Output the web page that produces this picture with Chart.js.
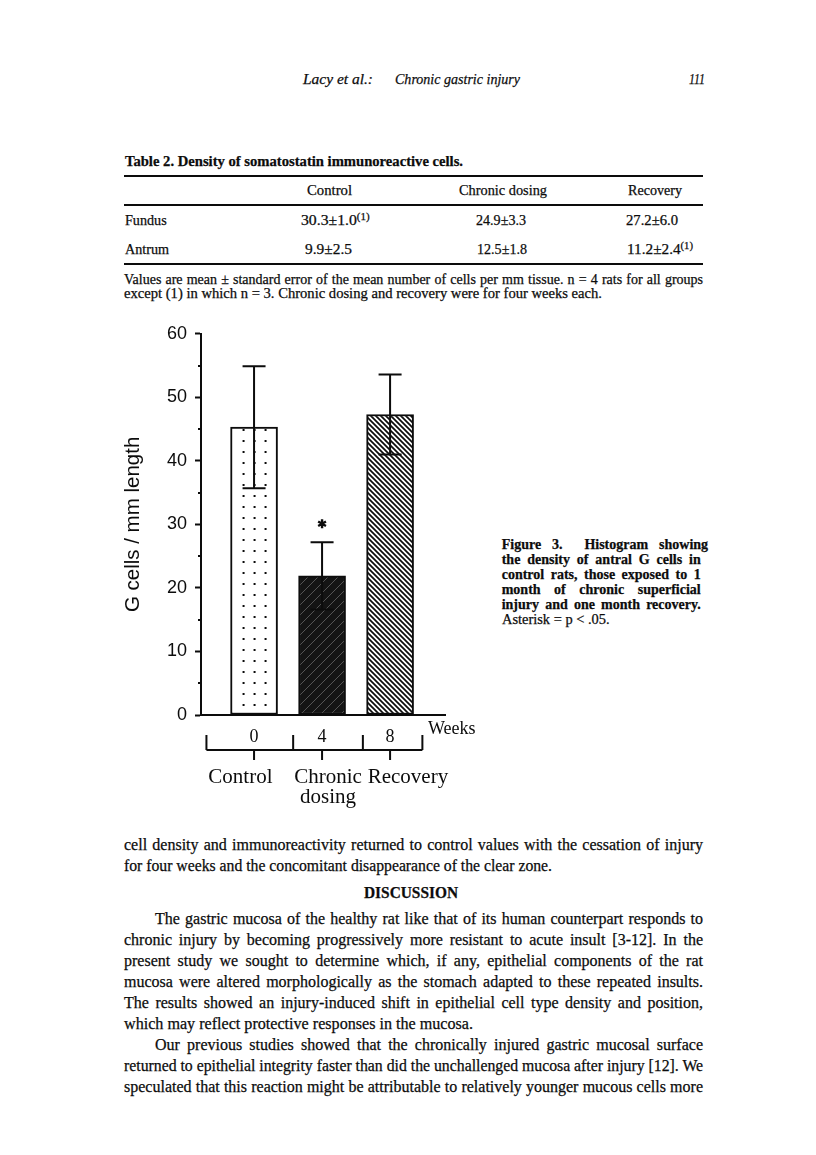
<!DOCTYPE html>
<html>
<head>
<meta charset="utf-8">
<script src="https://cdn.jsdelivr.net/npm/chart.js@4.4.0/dist/chart.umd.min.js"></script>
<style>
    html, body { margin: 0; padding: 0; background: #fff; }
    #page { position: relative; width: 816px; height: 1155px; overflow: hidden; color: #0c0c0c; font-family: "Liberation Serif", serif; }
    .t { position: absolute; white-space: nowrap; transform-origin: 0 50%; -webkit-text-stroke: 0.25px #0c0c0c; }
    .t sup { font-size: 0.7em; vertical-align: 0.45em; line-height: 0; }
    .rule { position: absolute; left: 124px; width: 579px; background: #0c0c0c; }
    #chartBox { position: absolute; left: 110px; top: 315px; width: 380px; height: 510px; }
</style>
</head>
<body>
<div id="page">
    <div class="rule" style="top:175px;height:2px"></div>
    <div class="rule" style="top:204px;height:1.5px"></div>
    <div class="rule" style="top:263px;height:2px"></div>
    <div id="chartBox"><canvas id="gCellChart" width="380" height="510"></canvas></div>
</div>

<script>
// --- data ---
const weeks = [0, 4, 8];
const groupLines = [['Control'], ['Chronic', 'dosing'], ['Recovery']];
const gCellMean = [45.3, 21.9, 47.3];
const gCellSem = [9.6, 5.3, 6.3];
const significant = [false, true, false];
const yMinorTicks = [5, 15, 25, 35, 45, 55];

// Table 2 values
const tableCols = ['Control', 'Chronic dosing', 'Recovery'];
const fundusVals = ['30.3±1.0<sup>(1)</sup>', '24.9±3.3', '27.2±6.0'];
const antrumVals = ['9.9±2.5', '12.5±1.8', '11.2±2.4<sup>(1)</sup>'];

const ink = '#0c0c0c';
const page = document.getElementById('page');

// --- text helper: place one line, stretch or justify it to a width ---
function line(html, x, yc, w, o) {
    const el = document.createElement('div');
    el.className = 't';
    el.innerHTML = html;
    const size = o.size || 15;
    el.style.font = (o.style || 'normal') + ' ' + (o.weight || 'normal') + ' ' + size + 'px "Liberation Serif"';
    el.style.lineHeight = (size * 1.2) + 'px';
    el.style.left = x + 'px';
    el.style.top = (yc - size * 0.6) + 'px';
    page.appendChild(el);
    const nat = el.getBoundingClientRect().width;
    const gaps = (el.textContent.match(/ /g) || []).length;
    if (o.justify && nat < w && gaps) {
        el.style.wordSpacing = ((w - nat) / gaps) + 'px';
    } else if (w) {
        el.style.transform = 'scaleX(' + (w / nat) + ')';
    }
}

// running head
line('Lacy et al.:', 303, 79, 70, { size: 15.5, style: 'italic' });
line('Chronic gastric injury', 395, 79, 125, { size: 15.5, style: 'italic' });
line('111', 689, 79, 16, { size: 15.5, style: 'italic' });

// table
line('Table 2. Density of somatostatin immunoreactive cells.', 125, 162, 338, { size: 14, weight: 'bold' });
line(tableCols[0], 306.7, 191, 45, { size: 14.5 });
line(tableCols[1], 459.3, 191, 88, { size: 14.5 });
line(tableCols[2], 628.3, 191, 54, { size: 14.5 });
line('Fundus', 125, 220.5, 41.7, { size: 14.5 });
line('Antrum', 125, 250, 44, { size: 14.5 });
line(fundusVals[0], 300.7, 220.5, 68.6, { size: 14.5 });
line(fundusVals[1], 475.7, 220.5, 50, { size: 14.5 });
line(fundusVals[2], 626, 220.5, 52, { size: 14.5 });
line(antrumVals[0], 305, 250, 47, { size: 14.5 });
line(antrumVals[1], 476.7, 250, 50, { size: 14.5 });
line(antrumVals[2], 626.7, 250, 66, { size: 14.5 });
line('Values are mean ± standard error of the mean number of cells per mm tissue. n = 4 rats for all groups', 124, 280, 579, { size: 14, justify: true });
line('except (1) in which n = 3. Chronic dosing and recovery were for four weeks each.', 124, 294.5, 478, { size: 14 });

// figure caption
const capLines = [
    'Figure 3.&nbsp; Histogram showing',
    'the density of antral G cells in',
    'control rats, those exposed to 1',
    'month of chronic superficial',
    'injury and one month recovery.'
];
capLines.forEach((s, i) => line(s, 501.7, 545 + i * 15.1, 199, { size: 14, weight: 'bold', justify: true }));
line('Asterisk = p &lt; .05.', 501.7, 620.5, 107.6, { size: 14 });

// body text
const bodyY = [845, 866, 893, 919, 940, 961, 982, 1003, 1024, 1045, 1066, 1087];
line('cell density and immunoreactivity returned to control values with the cessation of injury', 124, bodyY[0], 579, { size: 16, justify: true });
line('for four weeks and the concomitant disappearance of the clear zone.', 124, bodyY[1], 428, { size: 16 });
line('DISCUSSION', 364, bodyY[2], 94, { size: 16, weight: 'bold' });
line('The gastric mucosa of the healthy rat like that of its human counterpart responds to', 155, bodyY[3], 548, { size: 16, justify: true });
line('chronic injury by becoming progressively more resistant to acute insult [3-12]. In the', 124, bodyY[4], 579, { size: 16, justify: true });
line('present study we sought to determine which, if any, epithelial components of the rat', 124, bodyY[5], 579, { size: 16, justify: true });
line('mucosa were altered morphologically as the stomach adapted to these repeated insults.', 124, bodyY[6], 579, { size: 16, justify: true });
line('The results showed an injury-induced shift in epithelial cell type density and position,', 124, bodyY[7], 579, { size: 16, justify: true });
line('which may reflect protective responses in the mucosa.', 124, bodyY[8], 349, { size: 16 });
line('Our previous studies showed that the chronically injured gastric mucosal surface', 155, bodyY[9], 548, { size: 16, justify: true });
line('returned to epithelial integrity faster than did the unchallenged mucosa after injury [12]. We', 124, bodyY[10], 579, { size: 16, justify: true });
line('speculated that this reaction might be attributable to relatively younger mucous cells more', 124, bodyY[11], 579, { size: 16, justify: true });

// --- bar fill patterns ---
function makePattern(w, h, paint) {
    const c = document.createElement('canvas');
    c.width = w; c.height = h;
    const g = c.getContext('2d');
    paint(g, w, h);
    return g.createPattern(c, 'repeat');
}
const barW = 47;
const dotFill = makePattern(barW, 11, (g, w, h) => {
    g.fillStyle = '#fff'; g.fillRect(0, 0, w, h);
    g.fillStyle = ink;
    [12, 23, 34].forEach(x => g.fillRect(x, 4, 2, 2));
});
const darkFill = makePattern(10, 10, (g, w, h) => {
    g.fillStyle = '#141414'; g.fillRect(0, 0, w, h);
    g.strokeStyle = '#555'; g.lineWidth = 1;
    g.beginPath(); g.moveTo(-1, h + 1); g.lineTo(w + 1, -1); g.stroke();
});
const hatchFill = makePattern(5, 5, (g, w, h) => {
    g.fillStyle = '#fff'; g.fillRect(0, 0, w, h);
    g.strokeStyle = ink; g.lineWidth = 1.7;
    g.beginPath();
    g.moveTo(-1, -1); g.lineTo(w + 1, h + 1);
    g.moveTo(-1, h - 1); g.lineTo(1, h + 1);
    g.moveTo(w - 1, -1); g.lineTo(w + 1, 1);
    g.stroke();
});

// keep the dot columns inside the first bar
const patternAlign = {
    id: 'patternAlign',
    beforeDatasetsDraw(chart) {
        const bar = chart.getDatasetMeta(0).data[0];
        if (bar) dotFill.setTransform(new DOMMatrix().translate(bar.x - barW / 2, 0));
    }
};

// error bars + asterisk
const errorBars = {
    id: 'errorBars',
    afterDatasetsDraw(chart) {
        const { ctx, scales: { x, y } } = chart;
        ctx.save();
        ctx.strokeStyle = ink;
        ctx.lineWidth = 2;
        weeks.forEach((w, i) => {
            const px = x.getPixelForValue(w);
            const top = y.getPixelForValue(gCellMean[i] + gCellSem[i]);
            const bot = y.getPixelForValue(gCellMean[i] - gCellSem[i]);
            ctx.beginPath();
            ctx.moveTo(px, top); ctx.lineTo(px, bot);
            ctx.moveTo(px - 11.5, top); ctx.lineTo(px + 11.5, top);
            ctx.moveTo(px - 11.5, bot); ctx.lineTo(px + 11.5, bot);
            ctx.stroke();
            if (significant[i]) {
                const cy = top - 18.5, r = 4.5;
                ctx.lineWidth = 2.4;
                ctx.beginPath();
                for (let k = 0; k < 3; k++) {
                    const a = Math.PI / 2 + k * Math.PI / 3;
                    ctx.moveTo(px + r * Math.cos(a), cy + r * Math.sin(a));
                    ctx.lineTo(px - r * Math.cos(a), cy - r * Math.sin(a));
                }
                ctx.stroke();
                ctx.lineWidth = 2;
            }
        });
        ctx.restore();
    }
};

// short minor ticks on the y axis, "Weeks" and the group bracket under the x axis
const axisExtras = {
    id: 'axisExtras',
    afterDraw(chart) {
        const { ctx, chartArea, scales: { x, y } } = chart;
        ctx.save();
        ctx.strokeStyle = ink;
        ctx.lineWidth = 2;
        ctx.beginPath();
        yMinorTicks.forEach(v => {
            const py = Math.round(y.getPixelForValue(v));
            ctx.moveTo(chartArea.left - 3, py); ctx.lineTo(chartArea.left, py);
        });
        ctx.stroke();

        ctx.fillStyle = ink;
        ctx.font = '18px "Liberation Serif"';
        ctx.textAlign = 'left';
        ctx.textBaseline = 'middle';
        ctx.fillText('Weeks', 318, 414);

        // bracket: group edges sit between the week marks
        const edges = [-2.8, 2.3, 6.4, 9.9].map(v => x.getPixelForValue(v));
        const by = 435;
        ctx.beginPath();
        ctx.moveTo(edges[0], by); ctx.lineTo(edges[3], by);
        edges.forEach(ex => { ctx.moveTo(ex, by - 15); ctx.lineTo(ex, by); });
        weeks.forEach(w => {
            const px = x.getPixelForValue(w);
            ctx.moveTo(px, by); ctx.lineTo(px, by + 10);
        });
        ctx.stroke();

        ctx.font = '21px "Liberation Serif"';
        ctx.textAlign = 'center';
        const labelAt = [-0.8, 4.35, 9.05];
        groupLines.forEach((lines, i) => {
            const px = x.getPixelForValue(labelAt[i]);
            lines.forEach((s, k) => ctx.fillText(s, px, 462 + k * 20));
        });
        ctx.restore();
    }
};

// --- chart ---
new Chart(document.getElementById('gCellChart'), {
    type: 'bar',
    data: {
        datasets: [{
            data: weeks.map((w, i) => ({ x: w, y: gCellMean[i] })),
            backgroundColor: [dotFill, darkFill, hatchFill],
            borderColor: ink,
            borderWidth: 2,
            borderSkipped: false,
            barThickness: barW
        }]
    },
    options: {
        responsive: false,
        animation: false,
        devicePixelRatio: 1,
        layout: { padding: { top: 13, right: 45, left: 0, bottom: 0 } },
        plugins: { legend: { display: false }, tooltip: { enabled: false } },
        scales: {
            x: {
                type: 'linear',
                offset: false,
                min: -3.12,
                max: 11.23,
                afterBuildTicks: s => { s.ticks = weeks.map(v => ({ value: v })); },
                afterFit: s => { s.height = 110; },
                grid: { display: false },
                border: { display: true, color: ink, width: 2 },
                ticks: {
                    color: ink,
                    autoSkip: false,
                    maxRotation: 0,
                    padding: 3,
                    font: { family: 'Liberation Serif', size: 18 }
                }
            },
            y: {
                min: 0,
                max: 60,
                afterFit: s => { s.width = 91; },
                ticks: {
                    stepSize: 10,
                    color: ink,
                    padding: 8,
                    font: { family: 'Liberation Sans', size: 18 }
                },
                grid: {
                    drawOnChartArea: false,
                    drawTicks: true,
                    tickLength: 6,
                    tickWidth: 2,
                    tickColor: ink
                },
                border: { display: true, color: ink, width: 2 },
                title: {
                    display: true,
                    text: 'G cells / mm length',
                    color: ink,
                    padding: { top: 11, bottom: 0 },
                    font: { family: 'Liberation Sans', size: 20.5 }
                }
            }
        }
    },
    plugins: [patternAlign, errorBars, axisExtras]
});
</script>
</body>
</html>
